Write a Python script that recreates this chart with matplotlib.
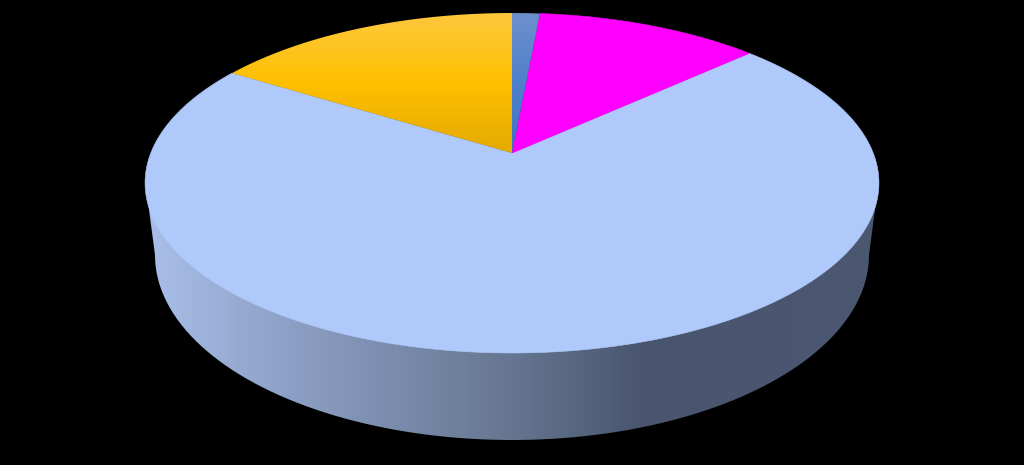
import numpy as np
import matplotlib
matplotlib.use("Agg")
import matplotlib.pyplot as plt
from matplotlib.colors import LinearSegmentedColormap
from matplotlib.patches import PathPatch
from matplotlib.path import Path

# Slice shares, clockwise from 12 o'clock
categories = ["A", "B", "C", "D"]
values = [1.45, 11.7, 70.75, 16.1]
colors = ["#4f7fc8", "#ff00ff", "#afc9fa", "#fdc000"]
# Vertical gradients per slice (top to bottom); None = flat colour
gradients = {
    "A": ["#6d90cc", "#4f80cb", "#3d73c6"],
    "D": ["#fec83f", "#ffc000", "#e3aa00"],
}
wall_stops = [(0.0, "#a9bfe9"), (0.20, "#8c9fc4"), (0.50, "#667690"), (0.68, "#49556f"), (1.0, "#4c5871")]

# Projection of the unit-circle pie to image pixels
APEX = (512.0, 153.0)
K = 0.1765
A = 361.2
B = 164.7


def project(x, y):
    w = 1 + K * y
    return APEX[0] + A * x / w, APEX[1] - B * y / w


fig = plt.figure(figsize=(10.24, 4.65), dpi=100, facecolor="black")
ax = fig.add_axes([0, 0, 1, 1])
wedges, _ = ax.pie(values, colors=colors, startangle=90, counterclock=False, radius=1)
ax.set_aspect("auto")
ax.set_xlim(0, 1024)
ax.set_ylim(465, 0)
ax.axis("off")

# Side wall: from the rim's widest points around the lower rim, horizontal gradient
t = np.linspace(0, np.pi, 300)
bot_x, bot_y = 512 + 357 * np.cos(t), 255 + 185 * np.sin(t)
hull = np.vstack([[[878.5, 183]], np.column_stack([bot_x, bot_y]), [[145.5, 183]], [[878.5, 183]]])
wall_clip = PathPatch(Path(hull), fc="none", ec="none", transform=ax.transData)
ax.add_patch(wall_clip)
wall_cmap = LinearSegmentedColormap.from_list("wall", wall_stops)
im = ax.imshow(np.linspace(0, 1, 512)[None, :], cmap=wall_cmap, extent=(146, 878, 445, 180),
               aspect="auto", zorder=1, interpolation="bilinear")
im.set_clip_path(wall_clip)

# Top face: re-project each pie wedge
for cat, wedge, col in zip(categories, wedges, colors):
    th = np.radians(np.linspace(wedge.theta1, wedge.theta2, 400))
    px, py = project(np.cos(th), np.sin(th))
    verts = np.vstack([[APEX], np.column_stack([px, py]), [APEX]])
    wedge.remove()
    if cat in gradients:
        patch = PathPatch(Path(verts), fc="none", ec="none", transform=ax.transData, zorder=2)
        ax.add_patch(patch)
        cmap = LinearSegmentedColormap.from_list(cat, gradients[cat])
        g = ax.imshow(np.linspace(0, 1, 256)[:, None], cmap=cmap,
                      extent=(px.min() - 2, px.max() + 2, APEX[1], 13),
                      aspect="auto", zorder=3, interpolation="bilinear")
        g.set_clip_path(patch)
    else:
        ax.add_patch(PathPatch(Path(verts), fc=col, ec=col, lw=0.4, transform=ax.transData,
                               zorder=2 if cat == "C" else 2.5))

ax.set_xlim(0, 1024)
ax.set_ylim(465, 0)
fig.savefig("out.png", dpi=100, facecolor="black")
